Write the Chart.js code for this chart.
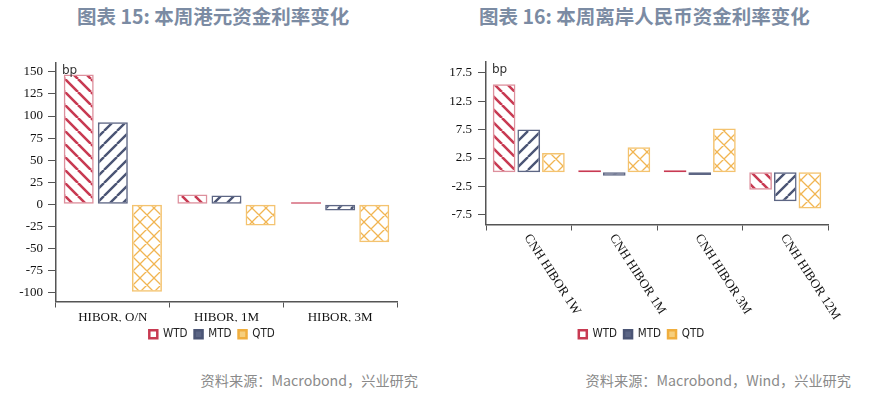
<!DOCTYPE html>
<html>
<head>
<meta charset="utf-8">
<script src="https://cdn.jsdelivr.net/npm/chart.js@4.4.1/dist/chart.umd.min.js"></script>
<style>
  body { margin: 0; background: #fff; width: 874px; height: 393px; position: relative; overflow: hidden; }
  .title { position: absolute; top: 1px; font: bold 19.5px "Noto Sans CJK SC", sans-serif; color: #7b8ba3; white-space: nowrap; }
  .src { position: absolute; top: 370px; font: 14.2px "Noto Sans CJK SC", sans-serif; color: #8a8a8a; white-space: nowrap; }
  .box { position: absolute; top: 40px; width: 437px; height: 310px; }
</style>
</head>
<body>
<div class="title" style="left:77px">图表 15: 本周港元资金利率变化</div>
<div class="title" style="left:479px">图表 16: 本周离岸人民币资金利率变化</div>
<div class="box" style="left:0"><canvas id="hkChart"></canvas></div>
<div class="box" style="left:437px"><canvas id="cnhChart"></canvas></div>
<div class="src" style="right:456px">资料来源：Macrobond，兴业研究</div>
<div class="src" style="right:23px">资料来源：Macrobond，Wind，兴业研究</div>
<script>
// 港元
const hkLabels = ['HIBOR, O/N', 'HIBOR, 1M', 'HIBOR, 3M'];
const hkWtd = [147, 11, 0.5];
const hkMtd = [93, 10, -7];
const hkQtd = [-99, -24, -43];
const hkTicks = [150, 125, 100, 75, 50, 25, 0, -25, -50, -75, -100];

// 离岸人民币
const cnhLabels = ['CNH HIBOR 1W', 'CNH HIBOR 1M', 'CNH HIBOR 3M', 'CNH HIBOR 12M'];
const cnhWtd = [15.5, 0.1, 0.15, -3.1];
const cnhMtd = [7.5, -0.6, -0.5, -5.1];
const cnhQtd = [3.4, 4.4, 7.7, -6.4];
const cnhTicks = [17.5, 15, 12.5, 10, 7.5, 5, 2.5, 0, -2.5, -5, -7.5];
const cnhTickLabels = ['17.5', '', '12.5', '', '7.5', '', '2.5', '', '-2.5', '', '-7.5'];

const seriesNames = ['WTD', 'MTD', 'QTD'];

const RED = '#c83a52', NAVY = '#4b5575', ORANGE = '#f1b552';

function hatch(color, kind, size, lw) {
  const c = document.createElement('canvas');
  c.width = c.height = size;
  const g = c.getContext('2d');
  g.strokeStyle = color;
  g.lineWidth = lw;
  g.beginPath();
  for (const k of [-size, 0, size]) {
    if (kind === 'back' || kind === 'cross') { g.moveTo(k, 0); g.lineTo(k + size, size); }
    if (kind === 'fwd' || kind === 'cross') { g.moveTo(k, size); g.lineTo(k + size, 0); }
  }
  g.stroke();
  return g.createPattern(c, 'repeat');
}

const fills = [hatch(RED, 'back', 13, 2.6), hatch(NAVY, 'fwd', 13, 2.4), hatch(ORANGE, 'cross', 14, 1.3)];
const borders = ['#dd909d', '#5d6684', '#f4c36f'];
const strong = [RED, NAVY, ORANGE];
const legendFill = ['#ffffff', '#5b6585', '#f6cf7e'];
const legendStroke = [RED, NAVY, '#f0ae3e'];

const serif = "'Liberation Serif', 'Times New Roman', serif";

function makeDatasets(arrs) {
  return arrs.map((d, i) => ({
    label: seriesNames[i],
    data: d,
    backgroundColor: fills[i],
    // 接近 0 的柱子只剩一条线，用深色
    borderColor: ctx => Math.abs(ctx.raw) < 0.6 && i === 0 ? strong[i] : borders[i],
    borderWidth: 1.5,
    borderSkipped: false,
    minBarLength: 2
  }));
}

const bpLabel = {
  id: 'bpLabel',
  afterDraw(chart) {
    const ctx = chart.ctx, a = chart.chartArea;
    ctx.save();
    ctx.font = "12px 'DejaVu Sans', sans-serif";
    ctx.fillStyle = '#333';
    ctx.textBaseline = 'middle';
    ctx.fillText('bp', a.left + 6, a.top + 8);
    ctx.restore();
  }
};

// 图例不在画布正中，挪到原图的位置
const legendShift = {
  id: 'legendShift',
  afterLayout(chart, args, opts) {
    const lg = chart.legend;
    const d = opts.center - (lg.left + lg.right) / 2;
    lg.left += d;
    lg.right += d;
  }
};

function legendOpts() {
  return {
    position: 'bottom',
    labels: {
      boxWidth: 8,
      boxHeight: 8,
      padding: 7,
      color: '#222',
      font: { family: "'Liberation Sans Narrow', 'DejaVu Sans Condensed', 'Liberation Sans', sans-serif", size: 11.5 },
      generateLabels(chart) {
        const items = Chart.defaults.plugins.legend.labels.generateLabels(chart);
        items.forEach((it, i) => {
          it.fillStyle = legendFill[i];
          it.strokeStyle = legendStroke[i];
          it.lineWidth = 2.5;
        });
        return items;
      }
    }
  };
}

// 图表 15
new Chart(document.getElementById('hkChart'), {
  type: 'bar',
  data: { labels: hkLabels, datasets: makeDatasets([hkWtd, hkMtd, hkQtd]) },
  options: {
    responsive: true,
    maintainAspectRatio: false,
    animation: false,
    datasets: { bar: { categoryPercentage: 0.9, barPercentage: 0.88 } },
    layout: { padding: { left: 0, right: 40, top: 23, bottom: 0 } },
    plugins: { legend: legendOpts(), tooltip: { enabled: false }, legendShift: { center: 212 } },
    scales: {
      x: {
        grid: { drawOnChartArea: false, tickLength: 6, color: '#555' },
        border: { color: '#555', width: 1.5 },
        ticks: { color: '#111', font: { family: serif, size: 13 }, padding: 2, maxRotation: 0 },
        afterFit: s => { s.height = 20; }
      },
      y: {
        min: -110,
        max: 160,
        afterBuildTicks: s => { s.ticks = hkTicks.map(v => ({ value: v })); },
        grid: { drawOnChartArea: false, tickLength: 8, color: '#555' },
        border: { color: '#555', width: 1.5 },
        ticks: { color: '#111', font: { family: serif, size: 13 }, padding: 5 },
        afterFit: s => { s.width = 56; }
      }
    }
  },
  plugins: [bpLabel, legendShift]
});

// 图表 16: 斜排的横轴标签
const slantLabels = {
  id: 'slantLabels',
  afterDraw(chart) {
    const ctx = chart.ctx, xs = chart.scales.x;
    ctx.save();
    ctx.font = '13px ' + serif;
    ctx.fillStyle = '#111';
    ctx.textBaseline = 'middle';
    ctx.textAlign = 'left';
    cnhLabels.forEach((lab, i) => {
      const x = xs.getPixelForValue(i);
      ctx.save();
      ctx.translate(x - 2, xs.top + 11);
      ctx.rotate(57 * Math.PI / 180);
      ctx.fillText(lab, 0, 0);
      ctx.restore();
    });
    ctx.restore();
  }
};

new Chart(document.getElementById('cnhChart'), {
  type: 'bar',
  data: { labels: cnhLabels, datasets: makeDatasets([cnhWtd, cnhMtd, cnhQtd]) },
  options: {
    responsive: true,
    maintainAspectRatio: false,
    animation: false,
    datasets: { bar: { categoryPercentage: 0.865, barPercentage: 0.92 } },
    layout: { padding: { left: 0, right: 46, top: 22, bottom: 0 } },
    plugins: { legend: legendOpts(), tooltip: { enabled: false }, legendShift: { center: 204.5 } },
    scales: {
      x: {
        grid: { drawOnChartArea: false, tickLength: 6, color: '#555' },
        border: { color: '#555', width: 1.5 },
        ticks: { display: false },
        afterFit: s => { s.height = 97; }
      },
      y: {
        min: -9.2,
        max: 19.4,
        afterBuildTicks: s => { s.ticks = cnhTicks.map(v => ({ value: v })); },
        grid: { drawOnChartArea: false, tickLength: 8, color: '#555' },
        border: { color: '#555', width: 1.5 },
        ticks: {
          color: '#111',
          font: { family: serif, size: 13 },
          padding: 6,
          callback: v => cnhTickLabels[cnhTicks.indexOf(v)]
        },
        afterFit: s => { s.width = 49; }
      }
    }
  },
  plugins: [bpLabel, slantLabels, legendShift]
});
</script>
</body>
</html>
